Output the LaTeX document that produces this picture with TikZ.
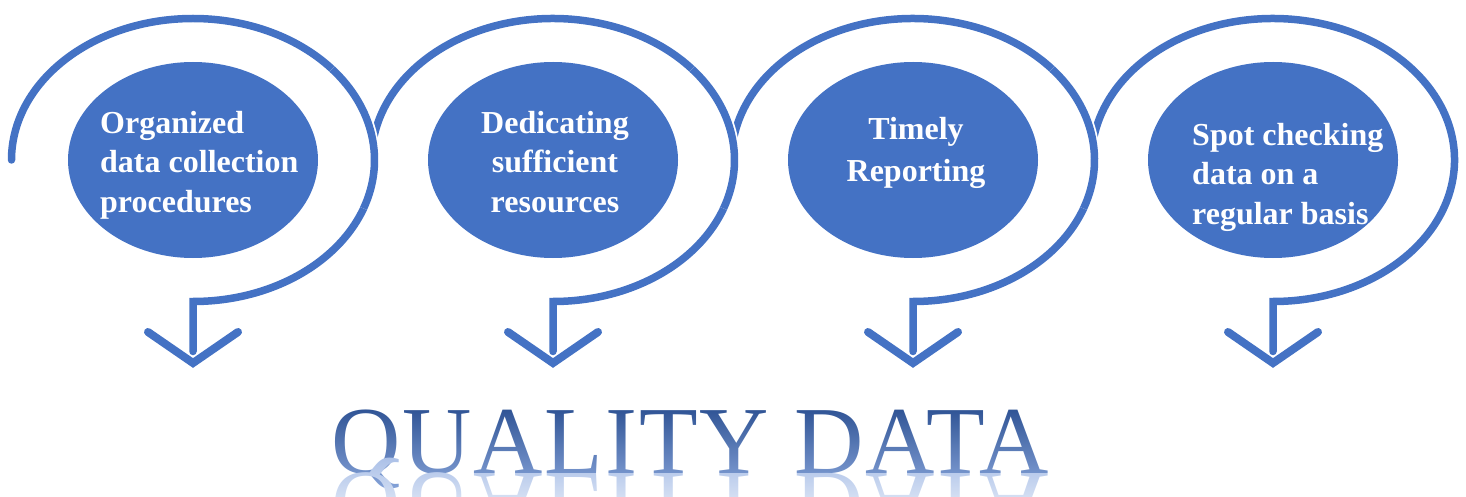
\documentclass[tikz,border=0pt]{standalone}
\usepackage{fontspec}
\setmainfont{Liberation Serif}
\usetikzlibrary{shapes.geometric,fadings}
\definecolor{accent}{HTML}{4472C4}
\definecolor{titletop}{HTML}{2D5193}
\definecolor{titlebot}{HTML}{8EABDF}
\definecolor{mirrortop}{HTML}{A3BAE5}
\newfontfamily\titlefam[LetterSpace=1.9]{Liberation Serif}
\newcommand\titlefont{\titlefam\fontsize{96}{96}\selectfont}
% text-shaped masks for the title and its reflection
\begin{tikzfadingfrompicture}[name=titlemask]
  \node[text=transparent!0, inner sep=0, font=\titlefont,
        text height=67pt, text depth=24pt] {QUALITY DATA};
\end{tikzfadingfrompicture}
\begin{tikzfadingfrompicture}[name=mirrormask]
  \node[text=transparent!0, inner sep=0, font=\titlefont,
        text height=67pt, text depth=24pt, yscale=-1, transform shape] {QUALITY DATA};
\end{tikzfadingfrompicture}
\begin{document}
\begin{tikzpicture}[x=1pt, y=1pt,
  loopline/.style={draw=accent, line width=7.5pt, line cap=round, line join=miter},
  overlap/.style={draw=accent, line width=7.5pt, line cap=butt,
    preaction={draw=white, line width=11pt, line cap=butt}},
  bubble/.style={ellipse, fill=accent, minimum width=250pt, minimum height=196pt, inner sep=0pt},
  bubbletext/.style={text=white, inner sep=0pt, font=\bfseries\fontsize{32}{39.5}\selectfont},
  chev/.style={draw=accent, line width=8pt, line cap=round, line join=miter}]
\useasboundingbox (0,0) rectangle (1466,496);

% bubbles
\node[bubble] (b1) at (193,336) {};
\node[bubble] (b2) at (553,336) {};
\node[bubble] (b3) at (913,336) {};
\node[bubble] (b4) at (1273,336) {};

% looping arrows around each bubble
\draw[loopline] (b1.center) ++(180:181.5 and 141.5)
  arc[start angle=180, end angle=-90, x radius=181.5, y radius=141.5] -- ++(0,-50);
\foreach \b in {b2,b3,b4}
  \draw[loopline] (\b.center) ++(173:181.5 and 141.5)
    arc[start angle=173, end angle=-90, x radius=181.5, y radius=141.5] -- ++(0,-50);

% each loop passes over the start of the next one
\foreach \b in {b1,b2,b3}
  \draw[overlap] (\b.center) ++(40:181.5 and 141.5)
    arc[start angle=40, end angle=-20, x radius=181.5, y radius=141.5];

% arrow heads
\coordinate (h1) at (193,133);
\coordinate (h2) at (553,133);
\coordinate (h3) at (913,133);
\coordinate (h4) at (1273,133);
\foreach \h in {h1,h2,h3,h4}
  \draw[chev] (\h) ++(-45,31) -- (\h) -- ++(45,31);

% bubble texts
\node[bubbletext, anchor=north west, align=left] (w1) at (100,387)
  {\rule{0pt}{24pt}Organized\\data collection\\procedures};
\node[bubbletext, anchor=north, align=center] (w2) at (555,387)
  {\rule{0pt}{24pt}Dedicating\\sufficient\\resources};
\node[bubbletext, anchor=north, align=center, font=\bfseries\fontsize{32}{42}\selectfont] (w3) at (916,381)
  {\rule{0pt}{24pt}Timely\\Reporting};
\node[bubbletext, anchor=north west, align=left] (w4) at (1192,375)
  {\rule{0pt}{24pt}Spot checking\\data on a\\regular basis};

% title with gradient and reflection
\shade[path fading=titlemask, fit fading=false,
  fading transform={shift={(690,44.5)}},
  top color=titletop, middle color=accent, bottom color=titlebot]
  (290,-1) rectangle (1090,90);
\shade[path fading=mirrormask, fit fading=false,
  fading transform={shift={(690,1.5)}},
  top color=mirrortop, bottom color=white]
  (290,-44) rectangle (1090,47);
\end{tikzpicture}
\end{document}
